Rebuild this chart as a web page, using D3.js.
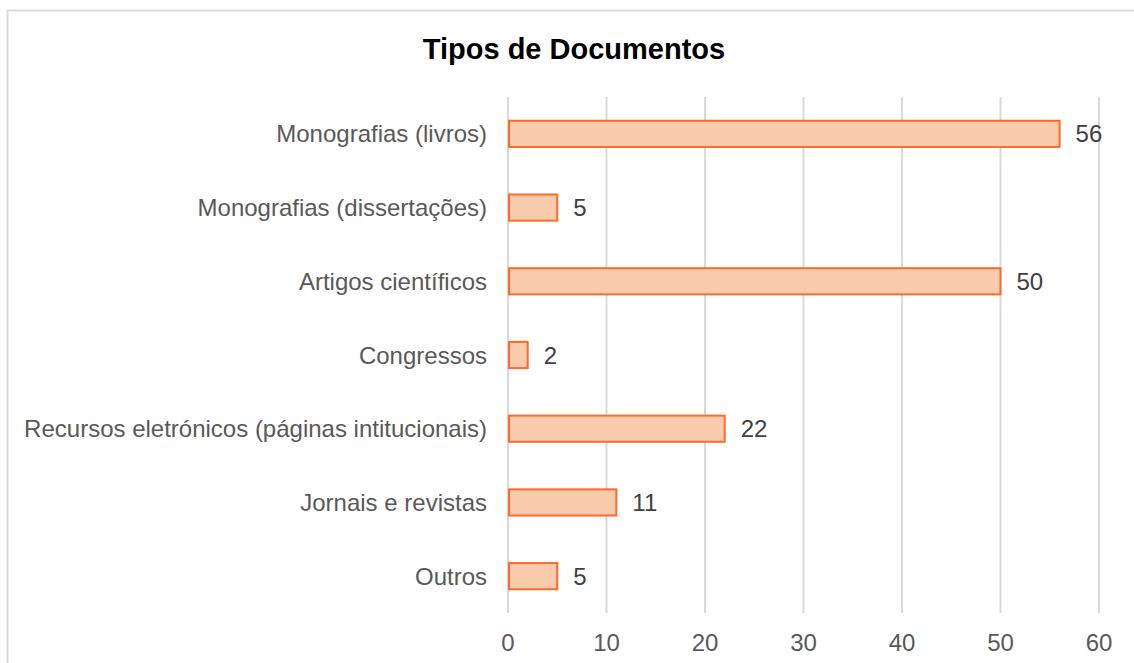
<!DOCTYPE html>
<html><head><meta charset="utf-8">
<script src="https://cdn.jsdelivr.net/npm/d3@7"></script>
<style>body{margin:0;background:#fff;}svg{display:block;font-family:"Liberation Sans",Arial,sans-serif;}</style>
</head><body><svg id="c" width="1134" height="663"></svg>
<script>
const categories = ["Monografias (livros)","Monografias (dissertações)","Artigos científicos","Congressos","Recursos eletrónicos (páginas intitucionais)","Jornais e revistas","Outros"];
const values = [56,5,50,2,22,11,5];
const ticks = [0,10,20,30,40,50,60];
const title = "Tipos de Documentos";

const svg = d3.select("#c");
svg.append("rect").attr("x",7.5).attr("y",10.5).attr("width",1140).attr("height",700)
  .attr("fill","#fff").attr("stroke","#d9d9d9").attr("stroke-width",2);

const x = d3.scaleLinear().domain([0,60]).range([508,1099]);
const y = d3.scaleBand().domain(categories).range([97,613]).paddingInner(0.645).paddingOuter(0.3225);

svg.append("text").attr("x",574).attr("y",59).attr("text-anchor","middle")
  .attr("font-size",29).attr("font-weight","bold").attr("fill","#000").text(title);

svg.append("g").selectAll("line").data(ticks).join("line")
  .attr("x1",d=>x(d)).attr("x2",d=>x(d)).attr("y1",97).attr("y2",613)
  .attr("stroke","#d9d9d9").attr("stroke-width",2);

svg.append("g").selectAll("text").data(ticks).join("text")
  .attr("x",d=>x(d)).attr("y",651).attr("text-anchor","middle")
  .attr("font-size",24).attr("fill","#595959").text(d=>d);

svg.append("g").selectAll("rect").data(values).join("rect")
  .attr("x",x(0)+1).attr("y",(d,i)=>y(categories[i]))
  .attr("width",d=>x(d)-x(0)-1).attr("height",y.bandwidth())
  .attr("fill","#f8cbad").attr("stroke","#ff6a2a").attr("stroke-width",2);

svg.append("g").selectAll("text").data(values).join("text")
  .attr("x",d=>x(d)+16).attr("y",(d,i)=>y(categories[i])+y.bandwidth()/2+8.5)
  .attr("font-size",24).attr("fill","#404040").text(d=>d);

svg.append("g").selectAll("text").data(categories).join("text")
  .attr("x",487).attr("y",d=>y(d)+y.bandwidth()/2+8.5).attr("text-anchor","end")
  .attr("font-size",24).attr("fill","#595959").text(d=>d);
</script></body></html>
